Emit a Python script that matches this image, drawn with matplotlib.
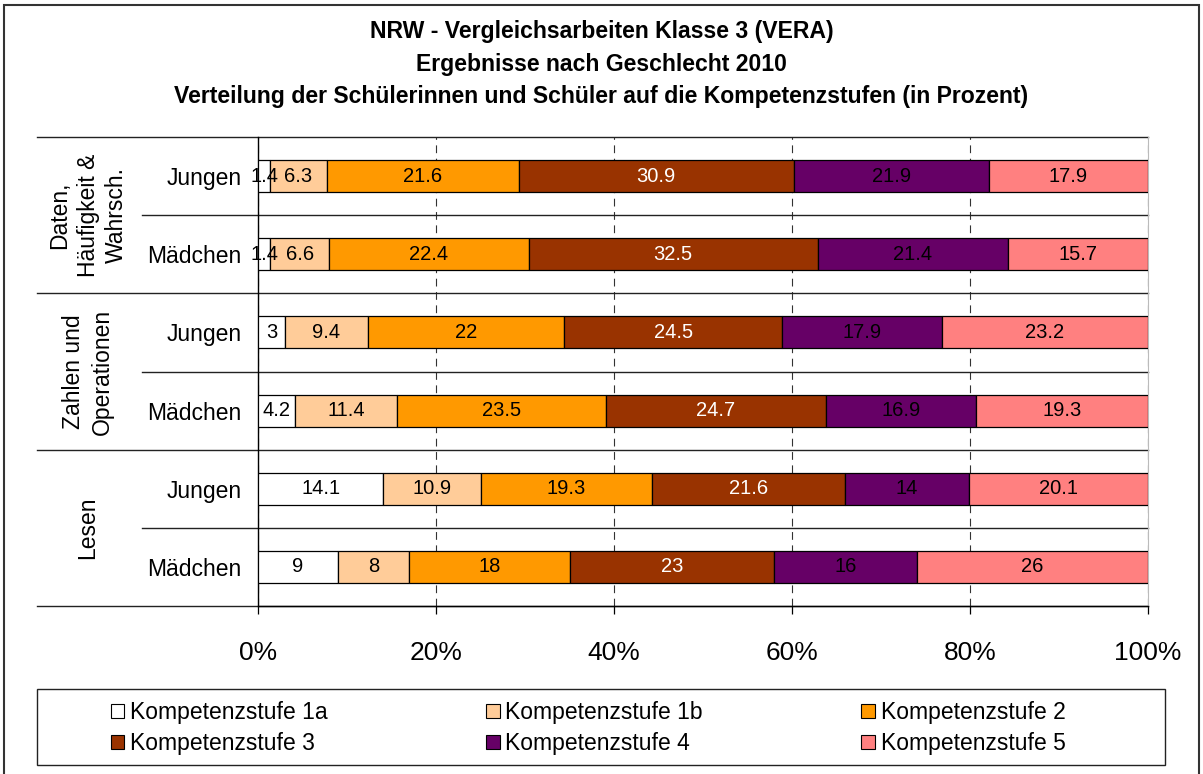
import numpy as np
import matplotlib
matplotlib.use("Agg")
import matplotlib.pyplot as plt
from matplotlib.patches import Rectangle, Patch
from matplotlib.transforms import blended_transform_factory

plt.rcParams['font.family'] = ['Liberation Sans', 'DejaVu Sans']

# Daten (Zeilen von oben nach unten)
rows = ['Jungen', 'Mädchen', 'Jungen', 'Mädchen', 'Jungen', 'Mädchen']
groups = ['Daten,\nHäufigkeit &\nWahrsch.', 'Zahlen und\nOperationen', 'Lesen']

stufe_1a = [1.4, 1.4, 3, 4.2, 14.1, 9]
stufe_1b = [6.3, 6.6, 9.4, 11.4, 10.9, 8]
stufe_2 = [21.6, 22.4, 22, 23.5, 19.3, 18]
stufe_3 = [30.9, 32.5, 24.5, 24.7, 21.6, 23]
stufe_4 = [21.9, 21.4, 17.9, 16.9, 14, 16]
stufe_5 = [17.9, 15.7, 23.2, 19.3, 20.1, 26]

series_names = ['Kompetenzstufe 1a', 'Kompetenzstufe 1b', 'Kompetenzstufe 2',
                'Kompetenzstufe 3', 'Kompetenzstufe 4', 'Kompetenzstufe 5']
series = [stufe_1a, stufe_1b, stufe_2, stufe_3, stufe_4, stufe_5]
colors = ['#FFFFFF', '#FFCC99', '#FF9900', '#993300', '#660066', '#FF8080']
text_colors = ['black', 'black', 'black', 'white', 'black', 'black']

W, H = 1203, 774
fig = plt.figure(figsize=(W / 100, H / 100), dpi=100)
ax = fig.add_axes([258 / W, 1 - 606 / H, 890 / W, 469 / H])

y = np.arange(len(rows))
left = np.zeros(len(rows))
for vals, name, col, tc in zip(series, series_names, colors, text_colors):
    vals = np.array(vals, dtype=float)
    bars = ax.barh(y, vals, left=left, height=0.41, color=col,
                   edgecolor='black', linewidth=0.9, label=name, zorder=3)
    ax.bar_label(bars, labels=['%g' % v for v in vals], label_type='center',
                 fontsize=14.5, color=tc, zorder=4)
    left += vals

ax.set_xlim(0, 100)
ax.set_ylim(len(rows) - 0.5, -0.5)
ax.set_xticks(np.arange(0, 101, 20))
ax.set_xticklabels(['%d%%' % v for v in range(0, 101, 20)])
ax.tick_params(axis='x', labelsize=19, length=6, width=0.9, pad=19, direction='out')
ax.set_yticks(y)
ax.set_yticklabels(rows, fontsize=16.5)
ax.tick_params(axis='y', length=0, pad=12)

ax.xaxis.grid(True, linestyle=(0, (7, 5)), color='#333333', linewidth=0.8)
ax.set_axisbelow(True)
ax.spines['top'].set_visible(False)
ax.spines['right'].set_color('#bbbbbb')
ax.spines['left'].set_linewidth(1.0)
ax.spines['bottom'].set_linewidth(1.0)

# Trennlinien (Gruppen und Zeilen)
trans = blended_transform_factory(ax.transAxes, ax.transData)
for b in [-0.5, 1.5, 3.5, 5.5]:
    ax.plot([(37 - 258) / 890, 1], [b, b], transform=trans, color='#222222',
            lw=1.0, clip_on=False, zorder=2)
for b in [0.5, 2.5, 4.5]:
    ax.plot([(142 - 258) / 890, 1], [b, b], transform=trans, color='#222222',
            lw=1.0, clip_on=False, zorder=2)

# Gruppenbeschriftungen
for i, g in enumerate(groups):
    ax.text((88 - 258) / 890, 2 * i + 0.5, g, transform=trans, rotation=90,
            ha='center', va='center', multialignment='center', fontsize=16.5,
            linespacing=1.3)

# Titel
fig.text(0.5, 1 - 64 / H,
         'NRW - Vergleichsarbeiten Klasse 3 (VERA)\nErgebnisse nach Geschlecht 2010\n'
         'Verteilung der Schülerinnen und Schüler auf die Kompetenzstufen (in Prozent)',
         ha='center', va='center', fontsize=16.6, fontweight='bold', linespacing=1.55)

# Legende (zeilenweise wie im Original)
fig.patches.append(Rectangle((37 / W, 1 - 765 / H), 1128 / W, 76 / H, fill=False,
                             edgecolor='#222222', lw=1.0, transform=fig.transFigure))
order = [0, 3, 1, 4, 2, 5]
handles = [Patch(facecolor=colors[k], edgecolor='black', linewidth=0.8) for k in order]
labels = [series_names[k] for k in order]
fig.legend(handles, labels, loc='center', bbox_to_anchor=(588 / W, 1 - 728 / H),
           ncol=3, frameon=False, fontsize=16.5, handlelength=0.6, handleheight=0.6,
           handletextpad=0.25, columnspacing=6.9, labelspacing=0.35)

# Rahmen
fig.patches.append(Rectangle((4 / W, -0.01), 1195 / W, 1 - 5 / H + 0.01, fill=False,
                             edgecolor='#333333', lw=1.5, transform=fig.transFigure))

fig.savefig('out.png', dpi=100)
